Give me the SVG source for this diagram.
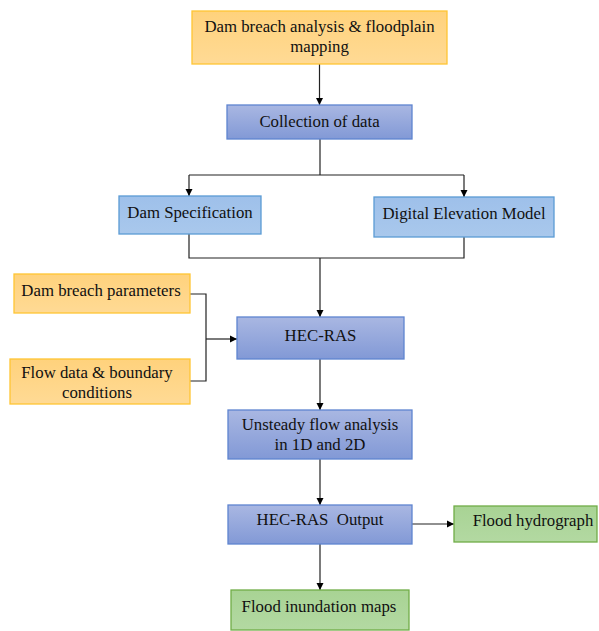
<svg xmlns="http://www.w3.org/2000/svg" width="599" height="631" viewBox="0 0 599 631">
<defs>
<linearGradient id="gOr" x1="0" y1="0" x2="0" y2="1"><stop offset="0" stop-color="#FFD27C"/><stop offset="1" stop-color="#FFDA95"/></linearGradient>
<linearGradient id="gBl" x1="0" y1="0" x2="0" y2="1"><stop offset="0" stop-color="#A9B7E2"/><stop offset="1" stop-color="#8299D6"/></linearGradient>
<linearGradient id="gLb" x1="0" y1="0" x2="0" y2="1"><stop offset="0" stop-color="#9EC0EA"/><stop offset="1" stop-color="#A9C8EC"/></linearGradient>
<linearGradient id="gGr" x1="0" y1="0" x2="0" y2="1"><stop offset="0" stop-color="#A8D394"/><stop offset="1" stop-color="#B3D9A2"/></linearGradient>
<marker id="ah" markerWidth="8" markerHeight="8" refX="7" refY="4" orient="auto" markerUnits="userSpaceOnUse"><path d="M0,0.5 L7,4 L0,7.5 Z" fill="#000"/></marker>
<style>
.or{fill:url(#gOr);stroke:#FFC533;stroke-width:1.3}
.bl{fill:url(#gBl);stroke:#5E84D0;stroke-width:1.3}
.lb{fill:url(#gLb);stroke:#5B9BD5;stroke-width:1.3}
.gr{fill:url(#gGr);stroke:#70AD47;stroke-width:1.3}
text{font-family:"Liberation Serif","Times New Roman",serif;font-size:16.8px;fill:#111;text-anchor:middle}
.c{fill:none;stroke:#222;stroke-width:1.2}
</style>
</defs>
<rect width="599" height="631" fill="#fff"/>
<g id="connectors">
<path class="c" d="M319.5,64 V105" marker-end="url(#ah)"/>
<path class="c" d="M320,139 V175"/>
<path class="c" d="M189,175 H464"/>
<path class="c" d="M189,175 V196" marker-end="url(#ah)"/>
<path class="c" d="M464,175 V197" marker-end="url(#ah)"/>
<path class="c" d="M189,234 V258 H464 V237"/>
<path class="c" d="M320,258 V317" marker-end="url(#ah)"/>
<path class="c" d="M190,294 H206 V381 H190"/>
<path class="c" d="M206,339 H237" marker-end="url(#ah)"/>
<path class="c" d="M320,359 V410" marker-end="url(#ah)"/>
<path class="c" d="M320,459 V505" marker-end="url(#ah)"/>
<path class="c" d="M412,524 H454" marker-end="url(#ah)"/>
<path class="c" d="M320,544 V590" marker-end="url(#ah)"/>
</g>
<g id="n1"><rect class="or" x="192" y="11" width="255" height="53"/><text x="319.5" y="32">Dam breach analysis &amp; floodplain</text><text x="319.5" y="52">mapping</text></g>
<g id="n2"><rect class="bl" x="227" y="105" width="185" height="34"/><text x="319.5" y="127">Collection of data</text></g>
<g id="n3"><rect class="lb" x="119" y="196" width="142" height="38"/><text x="190" y="218">Dam Specification</text></g>
<g id="n4"><rect class="lb" x="374" y="197" width="180" height="40"/><text x="464" y="219">Digital Elevation Model</text></g>
<g id="n5"><rect class="or" x="14" y="274" width="176" height="39"/><text x="101" y="296">Dam breach parameters</text></g>
<g id="n6"><rect class="or" x="10" y="359" width="180" height="45"/><text x="97" y="378">Flow data &amp; boundary</text><text x="97" y="398">conditions</text></g>
<g id="n7"><rect class="bl" x="237" y="317" width="167" height="42"/><text x="320.5" y="341">HEC-RAS</text></g>
<g id="n8"><rect class="bl" x="228" y="410" width="184" height="49"/><text x="320" y="430">Unsteady flow analysis</text><text x="320" y="450">in 1D and 2D</text></g>
<g id="n9"><rect class="bl" x="228" y="505" width="184" height="39"/><text x="320" y="525">HEC-RAS&#160; Output</text></g>
<g id="n10"><rect class="gr" x="454" y="506" width="143" height="36"/><text x="533" y="526">Flood hydrograph</text></g>
<g id="n11"><rect class="gr" x="231" y="590" width="178" height="40"/><text x="319" y="612">Flood inundation maps</text></g>
</svg>
